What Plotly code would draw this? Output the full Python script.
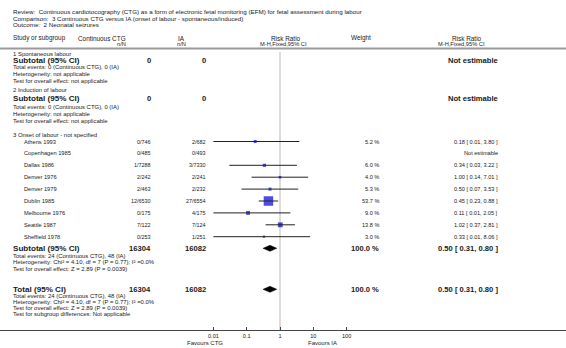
import plotly.graph_objects as go

# ---------------- data ----------------
title_lines = [
    "Review:  Continuous cardiotocography (CTG) as a form of electronic fetal monitoring (EFM) for fetal assessment during labour",
    "Comparison:  3 Continuous CTG versus IA (onset of labour - spontaneous/induced)",
    "Outcome:  2 Neonatal seizures",
]
studies = ["Athens 1993", "Copenhagen 1985", "Dallas 1986", "Denver 1976", "Denver 1979",
           "Dublin 1985", "Melbourne 1976", "Seattle 1987", "Sheffield 1978"]
ctg_nN = ["0/746", "0/485", "1/7288", "2/242", "2/463", "12/6530", "0/175", "7/122", "0/253"]
ia_nN = ["2/682", "0/493", "3/7330", "2/241", "2/232", "27/6554", "4/175", "7/124", "1/251"]
weights = [5.2, None, 6.0, 4.0, 5.3, 53.7, 9.0, 13.8, 3.0]
rr = [0.18, None, 0.34, 1.00, 0.50, 0.45, 0.11, 1.02, 0.33]
ci_lo = [0.01, None, 0.03, 0.14, 0.07, 0.23, 0.01, 0.37, 0.01]
ci_hi = [3.80, None, 3.22, 7.01, 3.53, 0.88, 2.05, 2.81, 8.06]

sub_ctg_total, sub_ia_total = 16304, 16082
sub_rr, sub_lo, sub_hi = 0.50, 0.31, 0.80
tot_rr, tot_lo, tot_hi = 0.50, 0.31, 0.80

group_labels = ["1 Spontaneous labour", "2 Induction of labour", "3 Onset of labour - not specified"]
empty_stats = ["Total events: 0 (Continuous CTG), 0 (IA)",
               "Heterogeneity: not applicable",
               "Test for overall effect: not applicable"]
g3_stats = ["Total events: 24 (Continuous CTG), 48 (IA)",
            "Heterogeneity: Chi² = 4.10, df = 7 (P = 0.77); I² =0.0%",
            "Test for overall effect: Z = 2.89 (P = 0.0039)"]
total_stats = ["Total events: 24 (Continuous CTG), 48 (IA)",
               "Heterogeneity: Chi² = 4.10, df = 7 (P = 0.77); I² =0.0%",
               "Test for overall effect: Z = 2.89 (P = 0.0039)",
               "Test for subgroup differences: Not applicable"]
tick_vals = [0.01, 0.1, 1, 10, 100]
tick_text = ["0.01", "0.1", "1", "10", "100"]
favours_left, favours_right = "Favours CTG", "Favours IA"

# ---------------- layout helpers ----------------
W, H = 566, 348
AXIS_Y = 330
X1 = 280          # pixel position of RR = 1
DEC = 33.3        # pixels per decade
FONT = "Liberation Sans, Arial, sans-serif"
TXT = "#1a1a1a"

def px(x):
    return x / W

ann = []
def text(x, y, s, size=5.9, anchor="left", bold=False, color=TXT, paper_y=False):
    ann.append(dict(x=px(x), y=((H - y) / H if paper_y else y), xref="paper",
                    yref=("paper" if paper_y else "y"), text=(f"<b>{s}</b>" if bold else s),
                    showarrow=False, xanchor=anchor, yanchor="middle", borderpad=0,
                    font=dict(family=FONT, size=size, color=color)))

# title
for i, s in enumerate(title_lines):
    text(12, 11.7 + 6.4 * i, s, size=6.25)

# header
hy1, hy2 = 38.3, 43.8
text(12, hy1, "Study or subgroup", size=6.4)
text(127, hy1, "Continuous CTG", size=6.4, anchor="right")
text(127, hy2, "n/N", size=5.7, anchor="right")
text(177, hy1, "IA", size=6.4)
text(176, hy2, "n/N", size=5.7)
text(286, hy1, "Risk Ratio", size=6.4, anchor="center")
text(283, hy2, "M-H,Fixed,95% CI", size=5.7, anchor="center")
text(361, hy1, "Weight", size=6.4, anchor="center")
text(467, hy1, "Risk Ratio", size=6.4, anchor="center")
text(461, hy2, "M-H,Fixed,95% CI", size=5.7, anchor="center")

C_CTG, C_IA, C_W, C_CI = 152, 207, 380, 499
SUB_SZ, VAL_SZ, STAT_SZ = 8.1, 7.6, 5.95

# groups 1 and 2 (empty)
for g, (gy, sy, ey) in enumerate([(53.5, 60.7, 67.3), (90.0, 98.4, 107.2)]):
    text(12, gy, group_labels[g], size=STAT_SZ)
    text(12, sy, "Subtotal (95% CI)", size=SUB_SZ, bold=True)
    text(C_CTG, sy, "0", size=VAL_SZ, anchor="right", bold=True)
    text(C_IA, sy, "0", size=VAL_SZ, anchor="right", bold=True)
    text(C_CI, sy, "Not estimable", size=VAL_SZ, anchor="right", bold=True)
    for k, s in enumerate(empty_stats):
        text(12, ey + 6.7 * k, s, size=STAT_SZ)

# group 3
text(12, 135, group_labels[2], size=STAT_SZ)
row_y = [141.5 + 11.9 * i for i in range(len(studies))]
for i, name in enumerate(studies):
    y = row_y[i]
    text(23, y, name, size=5.7)
    text(C_CTG, y, ctg_nN[i], size=5.4, anchor="right")
    text(C_IA, y, ia_nN[i], size=5.4, anchor="right")
    if rr[i] is None:
        text(C_CI, y, "Not estimable", size=5.6, anchor="right")
    else:
        text(C_W, y, f"{weights[i]:.1f} %", size=5.6, anchor="right")
        text(C_CI, y, f"{rr[i]:.2f} [ {ci_lo[i]:.2f}, {ci_hi[i]:.2f} ]", size=5.6, anchor="right")

sub_y = 248.3
text(12, sub_y, "Subtotal (95% CI)", size=SUB_SZ, bold=True)
text(C_CTG, sub_y, str(sub_ctg_total), size=VAL_SZ, anchor="right", bold=True)
text(C_IA, sub_y, str(sub_ia_total), size=VAL_SZ, anchor="right", bold=True)
text(C_W, sub_y, "100.0 %", size=VAL_SZ, anchor="right", bold=True)
text(C_CI, sub_y, f"{sub_rr:.2f} [ {sub_lo:.2f}, {sub_hi:.2f} ]", size=VAL_SZ, anchor="right", bold=True)
for k, s in enumerate(g3_stats):
    text(12, 255.6 + 6.6 * k, s, size=STAT_SZ)

tot_y = 289.3
text(12, tot_y, "Total (95% CI)", size=SUB_SZ, bold=True)
text(C_CTG, tot_y, str(sub_ctg_total), size=VAL_SZ, anchor="right", bold=True)
text(C_IA, tot_y, str(sub_ia_total), size=VAL_SZ, anchor="right", bold=True)
text(C_W, tot_y, "100.0 %", size=VAL_SZ, anchor="right", bold=True)
text(C_CI, tot_y, f"{tot_rr:.2f} [ {tot_lo:.2f}, {tot_hi:.2f} ]", size=VAL_SZ, anchor="right", bold=True)
for k, s in enumerate(total_stats):
    text(12, 295.7 + 6.0 * k, s, size=STAT_SZ)

text(205, 342.8, favours_left, size=6.0, anchor="center", paper_y=True)
text(322, 342.8, favours_right, size=6.0, anchor="center", paper_y=True)

# ---------------- traces ----------------
fig = go.Figure()

# boxes
bx, by, bs = [], [], []
for i in range(len(studies)):
    if rr[i] is None:
        continue
    bx.append(rr[i]); by.append(row_y[i]); bs.append(max(2.0, 1.3 * weights[i] ** 0.5))
fig.add_trace(go.Scatter(x=bx, y=by, mode="markers",
                         marker=dict(symbol="square", size=bs, color="#0000e0", line=dict(width=0)),
                         hoverinfo="skip", showlegend=False))

# CI lines
lx, ly = [], []
for i in range(len(studies)):
    if rr[i] is None:
        continue
    lx += [ci_lo[i], ci_hi[i], None]
    ly += [row_y[i], row_y[i], None]
fig.add_trace(go.Scatter(x=lx, y=ly, mode="lines", line=dict(color="#222", width=1),
                         hoverinfo="skip", showlegend=False))

# diamonds
for (c, lo, hi, y) in [(sub_rr, sub_lo, sub_hi, sub_y), (tot_rr, tot_lo, tot_hi, tot_y)]:
    fig.add_trace(go.Scatter(x=[lo, c, hi, c, lo], y=[y, y - 3, y, y + 3, y],
                             mode="lines", fill="toself", fillcolor="#000",
                             line=dict(color="#000", width=0.5),
                             hoverinfo="skip", showlegend=False))

shapes = [
    dict(type="line", xref="x", yref="y", x0=1, x1=1, y0=52, y1=AXIS_Y,
         line=dict(color="#d0d0d0", width=1.5), layer="below"),
    dict(type="line", xref="paper", yref="y", x0=0, x1=1, y0=48.5, y1=48.5,
         line=dict(color="#9a9a9a", width=2)),
]

lo_log = -X1 / DEC
hi_log = (W - X1) / DEC
fig.update_layout(
    width=W, height=H, margin=dict(l=0, r=0, t=0, b=0),
    paper_bgcolor="white", plot_bgcolor="white",
    annotations=ann, shapes=shapes, showlegend=False,
    xaxis=dict(type="log", range=[lo_log, hi_log], domain=[0, 1],
               tickvals=tick_vals, ticktext=tick_text, ticks="inside", ticklen=3,
               tickcolor="#444", tickwidth=1, showline=True, linecolor="#444", linewidth=1,
               showgrid=False, zeroline=False, ticklabelstandoff=0,
               tickfont=dict(family=FONT, size=5.6, color=TXT)),
    yaxis=dict(range=[AXIS_Y, 0], domain=[(H - AXIS_Y) / H, 1], visible=False,
               showgrid=False, zeroline=False),
)

fig.write_html("out.html", config={"displayModeBar": False},
               post_script="document.body.style.margin='0';document.body.style.overflow='hidden';")
